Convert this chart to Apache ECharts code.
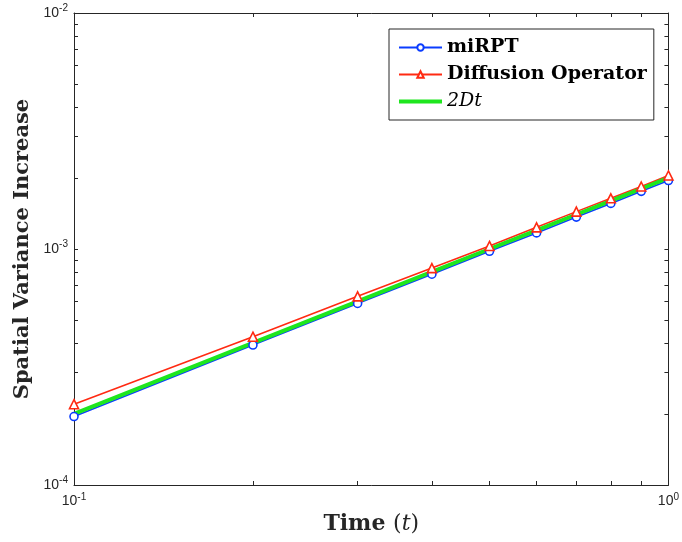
<!DOCTYPE html>
<html>
<head>
<meta charset="utf-8">
<script src="https://cdn.jsdelivr.net/npm/echarts@6/dist/echarts.min.js"></script>
<style>html,body{margin:0;padding:0;background:#fff}#c{width:682px;height:542px}</style>
</head>
<body>
<div id="c"></div>
<script>
const times = [0.1, 0.2, 0.3, 0.4, 0.5, 0.6, 0.7, 0.8, 0.9, 1.0];
const miRPT = [1.95e-4, 3.92e-4, 5.88e-4, 7.82e-4, 9.78e-4, 1.17e-3, 1.365e-3, 1.56e-3, 1.755e-3, 1.95e-3];
const diffusionOperator = [2.2e-4, 4.25e-4, 6.3e-4, 8.3e-4, 1.03e-3, 1.235e-3, 1.44e-3, 1.64e-3, 1.84e-3, 2.05e-3];
const twoDt = [2e-4, 4e-4, 6e-4, 8e-4, 1e-3, 1.2e-3, 1.4e-3, 1.6e-3, 1.8e-3, 2e-3];
const xTickValues = [0.1, 0.2, 0.3, 0.4, 0.5, 0.6, 0.7, 0.8, 0.9, 1.0];
const xLabelValues = [0.1, 1];
const yTickValues = [1e-4,2e-4,3e-4,4e-4,5e-4,6e-4,7e-4,8e-4,9e-4,1e-3,2e-3,3e-3,4e-3,5e-3,6e-3,7e-3,8e-3,9e-3,1e-2];
const yLabelValues = [1e-4, 1e-3, 1e-2];
const seriesNames = ['miRPT', 'Diffusion Operator', '2Dt'];

const axisColor = '#262626';
const pow10 = v => '{b|10}{s|' + Math.round(Math.log10(v)) + '}';
const labelRich = {
  b: {fontFamily: 'Liberation Sans, Arial', fontSize: 14, color: axisColor},
  s: {fontFamily: 'Liberation Sans, Arial', fontSize: 10, color: axisColor, padding: [0, 0, 9, 0]}
};
const pair = (xs, ys) => xs.map((x, i) => [x, ys[i]]);
const blue = '#0a3cff', red = '#ff2a12', green = '#1ee61e';

const chart = echarts.init(document.getElementById('c'));
const common = {
  axisLine: {show: true, lineStyle: {color: axisColor, width: 1}},
  splitLine: {show: false},
  minorTick: {show: false},
  minorSplitLine: {show: false}
};
chart.setOption({
  animation: false,
  grid: {left: 74, right: 10, top: 13, bottom: 57, containLabel: false},
  xAxis: [
    Object.assign({
      type: 'log', logBase: 10, min: 0.1, max: 1, position: 'bottom',
      axisTick: {show: true, inside: true, length: 4, customValues: xTickValues, lineStyle: {color: axisColor}},
      axisLabel: {show: true, customValues: xLabelValues, formatter: pow10, rich: labelRich, margin: 7},
      name: '{b|Time }{n|(}{i|t}{n|)}',
      nameLocation: 'middle', nameGap: 27,
      nameTextStyle: {rich: {
        b: {fontFamily: 'DejaVu Serif', fontWeight: 'bold', fontSize: 22, color: axisColor},
        n: {fontFamily: 'DejaVu Serif', fontSize: 22, color: axisColor},
        i: {fontFamily: 'DejaVu Serif', fontStyle: 'italic', fontSize: 22, color: axisColor}
      }}
    }, common),
    Object.assign({
      type: 'log', logBase: 10, min: 0.1, max: 1, position: 'top',
      axisTick: {show: true, inside: true, length: 4, customValues: xTickValues, lineStyle: {color: axisColor}},
      axisLabel: {show: false}
    }, common)
  ],
  yAxis: [
    Object.assign({
      type: 'log', logBase: 10, min: 1e-4, max: 1e-2, position: 'left',
      axisTick: {show: true, inside: true, length: 4, customValues: yTickValues, lineStyle: {color: axisColor}},
      axisLabel: {show: true, customValues: yLabelValues, formatter: pow10, rich: labelRich, margin: 6},
      name: 'Spatial Variance Increase',
      nameLocation: 'middle', nameGap: 39,
      nameTextStyle: {fontFamily: 'DejaVu Serif', fontWeight: 'bold', fontSize: 21, color: axisColor}
    }, common),
    Object.assign({
      type: 'log', logBase: 10, min: 1e-4, max: 1e-2, position: 'right',
      axisTick: {show: true, inside: true, length: 4, customValues: yTickValues, lineStyle: {color: axisColor}},
      axisLabel: {show: false}
    }, common)
  ],
  legend: {
    orient: 'vertical', left: 389, top: 29,
    backgroundColor: '#fff', borderColor: axisColor, borderWidth: 1,
    padding: [9, 7, 9, 8], itemGap: 8, itemWidth: 43, itemHeight: 8,
    data: [
      {name: seriesNames[0]},
      {name: seriesNames[1]},
      {name: seriesNames[2], itemStyle: {opacity: 0}, lineStyle: {width: 4, color: green}}
    ],
    formatter: n => n === '2Dt' ? '{i|2Dt}' : '{b|' + n + '}',
    textStyle: {rich: {
      b: {fontFamily: 'DejaVu Serif', fontWeight: 'bold', fontSize: 19, lineHeight: 20, color: '#000'},
      i: {fontFamily: 'DejaVu Serif', fontStyle: 'italic', fontSize: 19, lineHeight: 20, color: '#000'}
    }}
  },
  series: [
    {name: seriesNames[0], type: 'line', xAxisIndex: 0, yAxisIndex: 0, data: pair(times, miRPT),
     symbol: 'circle', symbolSize: 8, showAllSymbol: true,
     lineStyle: {color: blue, width: 1.6},
     itemStyle: {color: '#fff', borderColor: blue, borderWidth: 1.6}},
    {name: seriesNames[1], type: 'line', xAxisIndex: 0, yAxisIndex: 0, data: pair(times, diffusionOperator),
     symbol: 'triangle', symbolSize: 9, showAllSymbol: true,
     lineStyle: {color: red, width: 1.6},
     itemStyle: {color: '#fff', borderColor: red, borderWidth: 1.6}},
    {name: seriesNames[2], type: 'line', xAxisIndex: 0, yAxisIndex: 0, data: pair(times, twoDt),
     symbol: 'none',
     lineStyle: {color: green, width: 4},
     itemStyle: {color: green}}
  ]
});
</script>
</body>
</html>
